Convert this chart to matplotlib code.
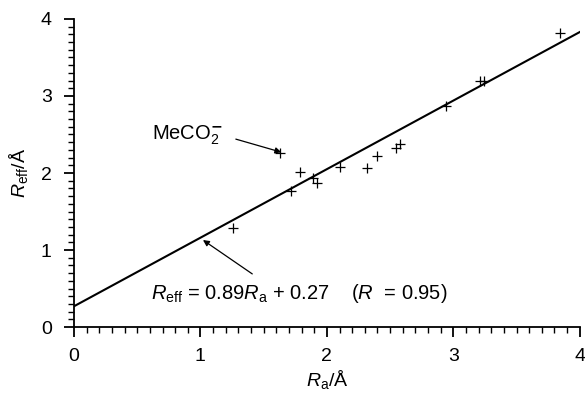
import matplotlib
matplotlib.use('Agg')
import matplotlib.pyplot as plt
import numpy as np
from matplotlib.ticker import MultipleLocator

plt.rcParams['font.family'] = 'Liberation Sans'
plt.rcParams['mathtext.fontset'] = 'custom'
plt.rcParams['mathtext.rm'] = 'Liberation Sans'
plt.rcParams['mathtext.it'] = 'Liberation Sans:italic'

# Data
r_a = [1.26, 1.63, 1.72, 1.79, 1.89, 1.92, 2.10, 2.32, 2.40, 2.55, 2.58,
       2.94, 3.21, 3.24, 3.84]
r_eff = [1.29, 2.26, 1.76, 2.01, 1.93, 1.87, 2.08, 2.07, 2.22, 2.33, 2.38,
         2.87, 3.19, 3.20, 3.82]

# Fit line from the figure's equation
slope = 0.89
intercept = 0.27

fig = plt.figure(figsize=(5.85, 3.95), dpi=100)
ax = fig.add_axes([0.1265, 0.172, 0.8645, 0.780])

ax.plot(r_a, r_eff, '+', color='black', markersize=7, markeredgewidth=0.9)
xs = np.array([0, 4])
ax.plot(xs, slope * xs + intercept, color='black', lw=1.5)

ax.set_xlim(0, 4)
ax.set_ylim(0, 4)
ax.spines['top'].set_visible(False)
ax.spines['right'].set_visible(False)
ax.spines['left'].set_linewidth(1.3)
ax.spines['bottom'].set_linewidth(1.3)

ax.xaxis.set_major_locator(MultipleLocator(1))
ax.xaxis.set_minor_locator(MultipleLocator(0.1))
ax.yaxis.set_major_locator(MultipleLocator(1))
ax.yaxis.set_minor_locator(MultipleLocator(0.1))
ax.tick_params(which='major', direction='out', length=7, width=1.3,
               labelsize=14)
ax.tick_params(axis='x', which='major', pad=8)
ax.tick_params(axis='y', which='major', pad=9)
ax.tick_params(which='minor', direction='out', length=4, width=1.0)

ax.set_xlabel(r'$R_{\mathrm{a}}$/Å', fontsize=14, labelpad=2)
ax.set_ylabel(r'$R_{\mathrm{eff}}$/Å', fontsize=14, labelpad=8)

# MeCO2- label and arrow
ax.text(0.62, 2.49, r'MeCO$_2^{\mathbf{-}}$', fontsize=14.5,
        va='center', ha='left')
ax.annotate('', xy=(1.64, 2.27), xytext=(1.28, 2.44),
            arrowprops=dict(arrowstyle='-|>', color='black', lw=0.9,
                            mutation_scale=9, shrinkA=0, shrinkB=0))

# Equation label and arrow
ax.text(0.61, 0.44,
        r'$R_{\mathrm{eff}}$ = 0.89$R_{\mathrm{a}}$ + 0.27    ($R$  = 0.95)',
        fontsize=14.5, va='center', ha='left')
ax.annotate('', xy=(1.02, 1.13), xytext=(1.41, 0.69),
            arrowprops=dict(arrowstyle='-|>', color='black', lw=0.9,
                            mutation_scale=9, shrinkA=0, shrinkB=0))

fig.savefig('out.png', dpi=100)
